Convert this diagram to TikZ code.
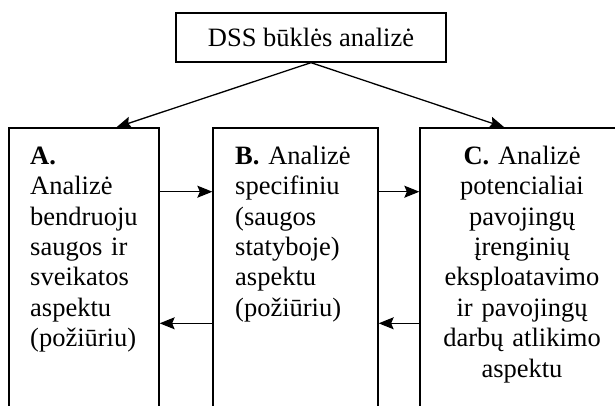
\documentclass[tikz,border=0pt]{standalone}
\usepackage{fontspec}
\setmainfont[Ligatures=NoCommon]{Liberation Serif}
\usetikzlibrary{arrows.meta}
\begin{document}
\begin{tikzpicture}[x=1pt,y=-1pt,
  box/.style={draw, line width=1.3pt, inner sep=0pt, minimum width=#1},
  txt/.style={inner sep=0pt, font=\fontsize{26.5}{30.4}\selectfont},
  arr/.style={line width=1.3pt, -{Stealth[length=15pt,width=12pt,inset=2.5pt]}}]
\useasboundingbox (0,0) rectangle (615,405);
\clip (0,0) rectangle (615,405);
\node[box=270pt, minimum height=49pt, txt] (top) at (311,37.5) {DSS būklės analizė};
\node[box=150pt, minimum height=302pt] (A) at (84,279) {};
\node[box=165pt, minimum height=302pt] (B) at (295.5,279) {};
\node[box=220pt, minimum height=302pt] (C) at (530,279) {};
\node[txt, text width=128pt, align=left, anchor=base west] (At) at (30,164.3)
  {\textbf{A.}\\Analizė\\bendruoju\\saugos ir\\sveikatos\\aspektu\\(požiūriu)};
\node[txt, text width=140pt, align=left, anchor=base west] (Bt) at (235,164.3)
  {\textbf{B.} Analizė\\specifiniu\\(saugos\\statyboje)\\aspektu\\(požiūriu)};
\node[txt, text width=170pt, align=center, anchor=base] (Ct) at (522,164.3)
  {\textbf{C.} Analizė\\potencialiai\\pavojingų\\įrenginių\\eksploatavimo\\ir pavojingų\\darbų atlikimo\\aspektu};
\coordinate (r1) at (0,191.7);
\coordinate (r2) at (0,323.3);
\draw[arr] (top.south) -- ([xshift=108pt]A.north west);
\draw[arr] (top.south) -- ([xshift=85pt]C.north west);
\draw[arr] (A.east |- r1) -- (B.west |- r1);
\draw[arr] (B.west |- r2) -- (A.east |- r2);
\draw[arr] (B.east |- r1) -- (C.west |- r1);
\draw[arr] (C.west |- r2) -- (B.east |- r2);
\end{tikzpicture}
\end{document}
